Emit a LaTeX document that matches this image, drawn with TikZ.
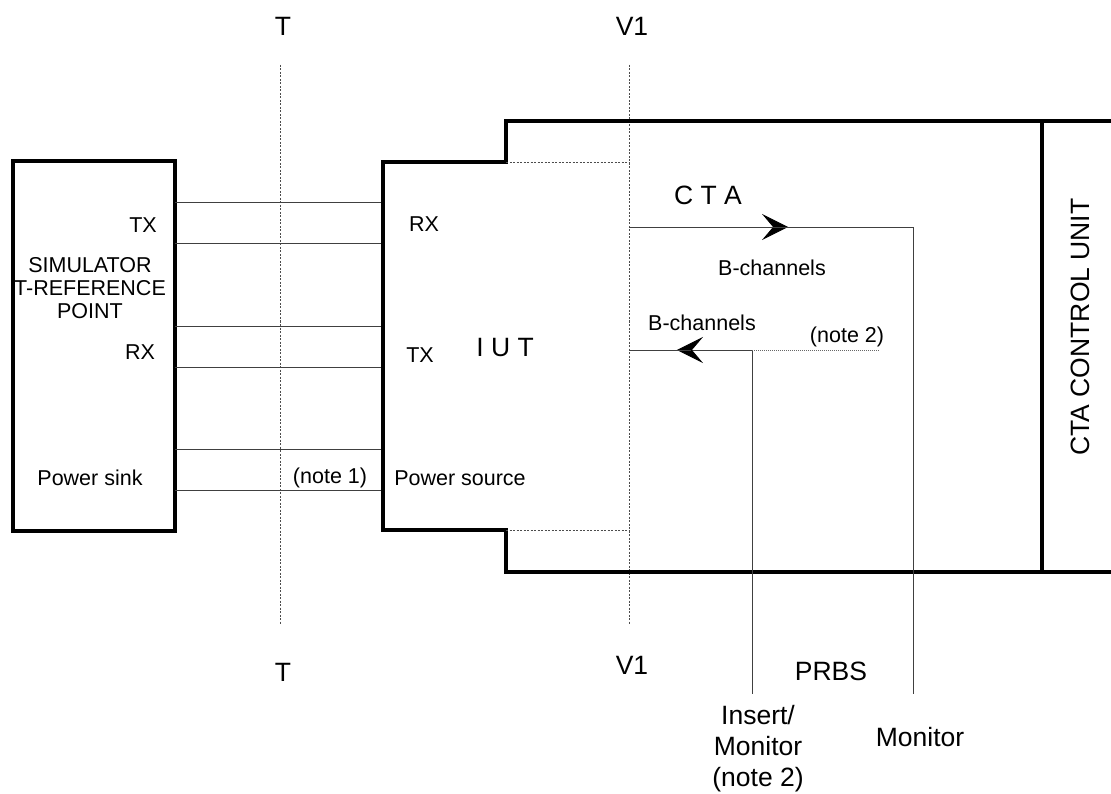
\documentclass[tikz,border=0pt]{standalone}
\usepackage{fontspec}
\setmainfont{Liberation Sans}
\usetikzlibrary{arrows.meta, positioning, calc}

\begin{document}
\begin{tikzpicture}[x=1pt,y=-1pt,
  box/.style={line width=3.4pt, line join=miter},
  wire/.style={line width=0.9pt, black!75},
  refline/.style={line width=0.7pt, black!70, dash pattern=on 2pt off 1.5pt},
  dotwire/.style={line width=0.9pt, black!60, dash pattern=on 1pt off 1pt},
  small/.style={font=\fontsize{21.5}{23}\selectfont, inner sep=0pt, align=center},
  big/.style={font=\fontsize{26.5}{31}\selectfont, inner sep=0pt, align=center},
  chan/.style={-{Stealth[length=26pt,width=26pt,inset=11pt,black]}, wire}]

  \useasboundingbox (0,0) rectangle (1111,794);

  % reference points T and V1
  \node[big] (ttop) at (283,26) {T};
  \node[big] (tbot) at (283,672) {T};
  \node[big] (vtop) at (632,26) {V1};
  \node[big] (vbot) at (632,665) {V1};
  \draw[refline] (280,65) -- (280,625);
  \draw[refline] (629,65) -- (629,625);

  % simulator
  \draw[box] (13,161) rectangle (175,531);
  \node[small] (simtx) at (143,225) {TX};
  \node[small] (sim) at (90,288) {SIMULATOR\\T-REFERENCE\\POINT};
  \node[small] (simrx) at (140,352) {RX};
  \node[small] (sink) at (90,478) {Power sink};

  % interface wires
  \foreach \y in {202,243,326,367,449,490}
    \draw[wire] (175,\y) -- (383,\y);
  \node[small] (note1) at (330,478) {(note 1)};

  % IUT and CTA outline
  \draw[box] (1111,121) -- (506,121) -- (506,162) -- (383,162) -- (383,530)
    -- (506,530) -- (506,572) -- (1111,572);
  \draw[box] (1042,121) -- (1042,572);
  \draw[refline] (506,162) -- (629,162);
  \draw[refline] (506,530) -- (629,530);
  \node[small] (iutrx) at (424,224) {RX};
  \node[small] (iuttx) at (420,355) {TX};
  \node[small] (source) at (460,478) {Power source};
  \node[big] (iut) at (505,348) {I U T};
  \node[big] (cta) at (708,195) {C T A};
  \node[big, rotate=90] (ctu) at (1080,327) {CTA CONTROL UNIT};

  % B-channels
  \coordinate (outa) at (629,227);
  \coordinate (outb) at (913,227);
  \coordinate (mon) at (913,694);
  \coordinate (ina) at (629,350);
  \coordinate (inb) at (752,350);
  \coordinate (inc) at (880,350);
  \coordinate (ins) at (752,694);
  \draw[chan] (outa) -- ($(outa)!0.56!(outb)$);
  \draw[wire] ($(outa)!0.5!(outb)$) -- (outb) -- (mon);
  \draw[chan] (inb) -- ($(ina)!0.39!(inb)$);
  \draw[wire] (ina) -- ($(ina)!0.5!(inb)$);
  \draw[wire] (inb) -- (ins);
  \draw[dotwire] (inb) -- (inc);
  \node[small] (bout) at (772,268) {B-channels};
  \node[small] (bin) at (702,323) {B-channels};
  \node[small] (note2) at (847,337) {(note 2)};

  % PRBS
  \node[big] (prbs) at (831,671) {PRBS};
  \node[big] (insert) at (758,749) {Insert/\\Monitor\\(note 2)};
  \node[big] (monlbl) at (920,737) {Monitor};
\end{tikzpicture}
\end{document}
